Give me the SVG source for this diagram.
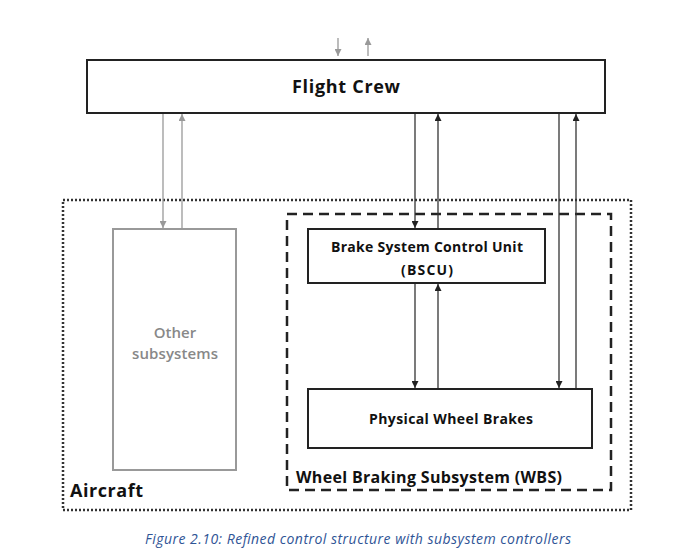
<svg xmlns="http://www.w3.org/2000/svg" width="693" height="555" viewBox="0 0 693 555">
<defs>
<marker id="ah" viewBox="0 0 10 10" refX="10" refY="5" markerWidth="7" markerHeight="7" markerUnits="userSpaceOnUse" orient="auto"><path d="M0,0 L10,5 L0,10 z" fill="#222"/></marker>
<marker id="ahg" viewBox="0 0 10 10" refX="10" refY="5" markerWidth="7" markerHeight="7" markerUnits="userSpaceOnUse" orient="auto"><path d="M0,0 L10,5 L0,10 z" fill="#999"/></marker>
</defs>
<style>
.box{fill:#fff;stroke:#222;stroke-width:2}
.t{font-family:"Open Sans","Liberation Sans",sans-serif;font-weight:bold;fill:#111;text-anchor:middle}
.c{stroke:#333;stroke-width:1.3;fill:none;marker-end:url(#ah)}
.g{stroke:#999;stroke-width:1.3;fill:none;marker-end:url(#ahg)}
</style>
<rect width="693" height="555" fill="#fff"/>
<g id="aircraft">
<rect x="63" y="200" width="568" height="310" fill="none" stroke="#333" stroke-width="2.5" stroke-dasharray="2 2"/>
<text x="70" y="497" class="t" style="text-anchor:start" font-size="18" textLength="73">Aircraft</text>
</g>
<g id="wbs">
<rect x="287" y="214" width="324" height="276" fill="none" stroke="#222" stroke-width="2.5" stroke-dasharray="10 6"/>
<text x="296" y="483" class="t" style="text-anchor:start" font-size="16" textLength="266">Wheel Braking Subsystem (WBS)</text>
</g>
<g id="flight-crew">
<rect x="87" y="60" width="518" height="53" class="box" stroke-width="2.5"/>
<text x="346" y="93" class="t" font-size="18" textLength="108">Flight Crew</text>
</g>
<g id="other">
<rect x="113" y="229" width="123" height="241" fill="#fff" stroke="#999" stroke-width="2"/>
<text x="175" y="338" font-family="Open Sans, Liberation Sans, sans-serif" font-size="15" font-weight="600" fill="#888" text-anchor="middle">Other</text>
<text x="175" y="359" font-family="Open Sans, Liberation Sans, sans-serif" font-size="15" font-weight="600" fill="#888" text-anchor="middle" textLength="86">subsystems</text>
</g>
<g id="bscu">
<rect x="308" y="229" width="237" height="54" class="box"/>
<text x="427" y="252" class="t" font-size="14" textLength="192">Brake System Control Unit</text>
<text x="427" y="275" class="t" font-size="14" textLength="52">(BSCU)</text>
</g>
<g id="pwb">
<rect x="308" y="389" width="284" height="59" class="box"/>
<text x="451" y="424" class="t" font-size="14" textLength="164">Physical Wheel Brakes</text>
</g>
<g id="connectors">
<line x1="338" y1="38" x2="338" y2="56" class="g"/>
<line x1="368" y1="56" x2="368" y2="38" class="g"/>
<line x1="163" y1="114" x2="163" y2="228" class="g"/>
<line x1="182" y1="228" x2="182" y2="114" class="g"/>
<line x1="415" y1="114" x2="415" y2="228" class="c"/>
<line x1="438" y1="228" x2="438" y2="114" class="c"/>
<line x1="415" y1="284" x2="415" y2="388" class="c"/>
<line x1="438" y1="388" x2="438" y2="284" class="c"/>
<line x1="559" y1="114" x2="559" y2="388" class="c"/>
<line x1="576" y1="388" x2="576" y2="114" class="c"/>
</g>
<text x="358" y="544" font-family="Open Sans, Liberation Sans, sans-serif" font-style="italic" font-size="14" fill="#2f5496" text-anchor="middle" textLength="426">Figure 2.10: Refined control structure with subsystem controllers</text>
</svg>
